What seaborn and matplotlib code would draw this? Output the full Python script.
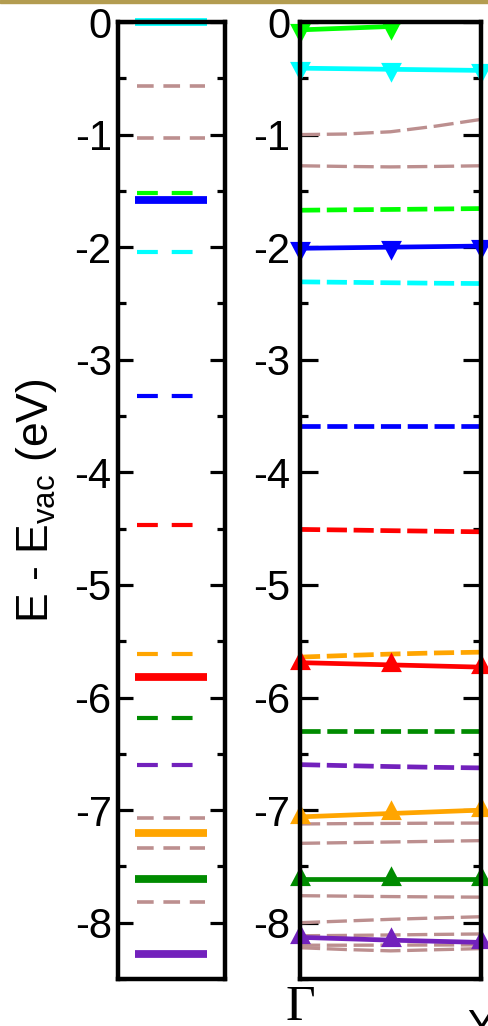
import matplotlib
matplotlib.use("Agg")
import matplotlib.pyplot as plt
import seaborn as sns
from matplotlib.patches import Rectangle
from matplotlib.ticker import MultipleLocator

# ---------------- data ----------------
PALETTE = {"lime": "#00ff00", "cyan": "#00ffff", "blue": "#0000ff", "red": "#ff0000",
           "orange": "#ffa500", "green4": "#008b00", "indigo": "#7221bc", "brown": "#bc8f8f"}

# left panel: molecular levels
mol_energy = [0.00, -0.57, -1.03, -1.52, -1.58, -2.04, -3.32, -4.47, -5.61, -5.82,
              -6.18, -6.60, -7.07, -7.20, -7.34, -7.61, -7.82, -8.28]
mol_color = ["cyan", "brown", "brown", "lime", "blue", "cyan", "blue", "red", "orange", "red",
             "green4", "indigo", "brown", "orange", "brown", "green4", "brown", "indigo"]
mol_solid = [True, False, False, False, True, False, False, False, False, True,
             False, False, False, True, False, True, False, True]

# right panel: bands along Gamma -> Y
k_ticks = [0.0, 1.0]
k_labels = ["Γ", "Y"]

k_marked = [0.0, 0.5, 1.0]
marked_bands = [
    [-0.07, -0.04, 0.35],
    [-0.41, -0.42, -0.43],
    [-2.01, -2.00, -1.99],
    [-5.69, -5.71, -5.73],
    [-7.06, -7.03, -7.00],
    [-7.61, -7.61, -7.61],
    [-8.13, -8.155, -8.175],
]
marked_color = ["lime", "cyan", "blue", "red", "orange", "green4", "indigo"]
marked_up = [False, False, False, True, True, True, True]

k_dense = [0.0, 0.25, 0.5, 0.75, 1.0]
dashed_bands = [
    [-1.000, -0.995, -0.975, -0.925, -0.865],
    [-1.277, -1.283, -1.287, -1.283, -1.277],
    [-1.672, -1.668, -1.665, -1.661, -1.657],
    [-2.308, -2.312, -2.316, -2.320, -2.323],
    [-3.588, -3.588, -3.588, -3.588, -3.588],
    [-4.507, -4.512, -4.518, -4.523, -4.528],
    [-5.641, -5.627, -5.614, -5.604, -5.597],
    [-6.300, -6.300, -6.300, -6.300, -6.300],
    [-6.596, -6.605, -6.613, -6.620, -6.625],
    [-7.123, -7.120, -7.118, -7.116, -7.115],
    [-7.295, -7.289, -7.283, -7.277, -7.271],
    [-7.760, -7.764, -7.768, -7.771, -7.773],
    [-8.000, -7.985, -7.970, -7.958, -7.947],
    [-8.116, -8.113, -8.109, -8.104, -8.100],
    [-8.200, -8.200, -8.199, -8.198, -8.197],
    [-8.222, -8.238, -8.250, -8.240, -8.230],
]
dashed_color = ["brown", "brown", "lime", "cyan", "blue", "red", "orange", "green4",
                "indigo", "brown", "brown", "brown", "brown", "brown", "brown", "brown"]

yticks = [0, -1, -2, -3, -4, -5, -6, -7, -8]
ytick_labels = ["0", "-1", "-2", "-3", "-4", "-5", "-6", "-7", "-8"]
ylabel = "E - E$_\\mathregular{vac}$ (eV)"

# ---------------- style ----------------
sns.set_theme(style="white")
plt.rcParams["font.family"] = ["Liberation Sans", "DejaVu Sans"]
plt.rcParams["lines.scale_dashes"] = False
plt.rcParams["lines.solid_capstyle"] = "butt"
plt.rcParams["lines.dash_capstyle"] = "butt"

W, H = 488, 1026
fig = plt.figure(figsize=(W / 100, H / 100), dpi=100)
fig.patch.set_facecolor("white")
fig.patches.append(Rectangle((0, 1 - 3 / H), 1, 3 / H, transform=fig.transFigure,
                             color="#b39c50", zorder=0))

top_px, bot_px = 22, 979
ax_b = 1 - bot_px / H
ax_h = (bot_px - top_px) / H
ax1 = fig.add_axes([118 / W, ax_b, 107 / W, ax_h])
ax2 = fig.add_axes([300 / W, ax_b, 181 / W, ax_h])

down_tri = [(-1, 0.633), (1, 0.633), (0, -1.267), (-1, 0.633)]
up_tri = [(-1, -0.633), (1, -0.633), (0, 1.267), (-1, -0.633)]

# ---- left panel ----
for e, c, solid in zip(mol_energy, mol_color, mol_solid):
    col = PALETTE[c]
    if solid:
        sns.lineplot(x=[0.159, 0.832], y=[e, e], color=col, lw=5.6, ax=ax1)
    elif c == "brown":
        sns.lineplot(x=[0.178, 0.813], y=[e, e], color=col, lw=2.6,
                     linestyle=(0, (12, 7)), ax=ax1)
    else:
        sns.lineplot(x=[0.178, 0.813], y=[e, e], color=col, lw=3.0,
                     linestyle=(0, (15, 10)), ax=ax1)
for ln in ax1.lines:
    ln.set_clip_on(False)

# ---- right panel ----
for band, c in zip(dashed_bands, dashed_color):
    lw = 2.4 if c == "brown" else 3.4
    sns.lineplot(x=k_dense, y=band, color=PALETTE[c], lw=lw,
                 linestyle=(0, (14.5, 4.8)), ax=ax2)

for band, c, up in zip(marked_bands, marked_color, marked_up):
    col = PALETTE[c]
    sns.lineplot(x=k_marked, y=band, color=col, lw=3.4,
                 marker=up_tri if up else down_tri, markersize=19,
                 markeredgewidth=0, markeredgecolor=col, markerfacecolor=col, ax=ax2)
    clip = Rectangle((-0.2, -0.02), 1.4, 1.021, transform=ax2.transAxes)
    ax2.lines[-1].set_clip_path(clip)

# ---- axes styling ----
for ax in (ax1, ax2):
    ax.set_ylim(-8.5, 0)
    ax.set_xlim(0, 1)
    ax.set_yticks(yticks)
    ax.set_yticklabels(ytick_labels)
    ax.yaxis.set_minor_locator(MultipleLocator(0.5))
    for sp in ax.spines.values():
        sp.set_linewidth(3.2)
        sp.set_color("black")
    ax.set_facecolor("none")
    ax.tick_params(axis="y", which="both", direction="in", left=True, right=True,
                   width=2.3, color="black", labelsize=30, labelcolor="black")
    ax.tick_params(axis="y", which="minor", length=5.8)
    ax.set_xlabel("")
    ax.set_ylabel("")

ax1.tick_params(axis="y", which="major", length=11, pad=4.5)
ax2.tick_params(axis="y", which="major", length=13.3, pad=7)

ax1.set_xticks([])
ax2.set_xticks(k_ticks)
xl = ax2.set_xticklabels(k_labels)
ax2.tick_params(axis="x", length=0, pad=21, labelsize=30, labelcolor="black")
xl[0].set_fontfamily(["Liberation Serif", "DejaVu Serif"])
xl[0].set_fontsize(37)
xl[0].set_va("center")

ax1.set_ylabel(ylabel, fontsize=32, color="black", va="center")
ax1.yaxis.set_label_coords((37 - 118) / 107, 0.5)

fig.savefig("out.png", dpi=100)
